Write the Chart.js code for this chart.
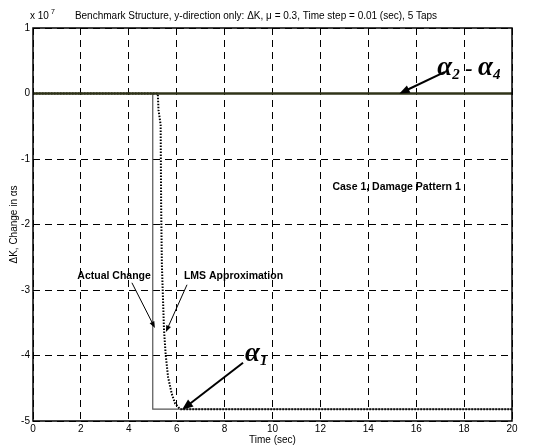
<!DOCTYPE html>
<html>
<head>
<meta charset="utf-8">
<script src="https://cdn.jsdelivr.net/npm/chart.js@4.4.0/dist/chart.umd.min.js"></script>
<style>
  html, body { margin: 0; padding: 0; background: #fff; }
  #wrap { width: 540px; height: 445px; }
</style>
</head>
<body>
<div id="wrap"><canvas id="grafico"></canvas></div>
<script>
// datos (unidades de 1e7)
const xTicks = [0, 2, 4, 6, 8, 10, 12, 14, 16, 18, 20];
const yTicks = [1, 0, -1, -2, -3, -4, -5];

const tAlpha24 = [0, 20];
const vAlpha24 = [0, 0];

const tActual = [0, 5, 5, 20];
const vActual = [0, 0, -4.82, -4.82];

const tLMS = [0, 5.21, 5.24, 5.33, 5.35, 5.38, 5.47, 5.54, 5.64, 5.79, 5.93, 6.14, 20];
const vLMS = [0, 0, -0.25, -0.48, -1.70, -2.60, -3.61, -3.99, -4.33, -4.58, -4.73, -4.82, -4.82];

const toPts = (xs, ys) => xs.map((x, i) => ({ x: x, y: ys[i] }));

// textos y flechas en coordenadas de datos
const etiquetas = [
    { text: 'Case 1, Damage Pattern 1', x: 12.5, y: -1.43 },
    { text: 'Actual Change', x: 1.85, y: -2.79 },
    { text: 'LMS Approximation', x: 6.3, y: -2.79 }
];
const flechas = [
    { from: [4.13, -2.89], to: [5.09, -3.58], w: 1, head: 7 },
    { from: [6.43, -2.92], to: [5.55, -3.64], w: 1, head: 7 },
    { from: [17.2, 0.33], to: [15.3, 0], w: 2, head: 11 },
    { from: [8.77, -4.11], to: [6.22, -4.83], w: 2, head: 12 }
];

function drawRich(ctx, x, y, parts) {
    let cx = x;
    parts.forEach(p => {
        ctx.font = 'italic bold ' + p.size + 'px "Liberation Serif", "Times New Roman", serif';
        ctx.fillText(p.t, cx, y + (p.dy || 0));
        cx += ctx.measureText(p.t).width;
    });
}

const anotaciones = {
    id: 'anotaciones',
    afterDatasetsDraw(chart) {
        const ctx = chart.ctx;
        const xs = chart.scales.x, ys = chart.scales.y;
        const a = chart.chartArea;
        ctx.save();

        // marco completo
        ctx.strokeStyle = '#000';
        ctx.lineWidth = 1.5;
        ctx.strokeRect(a.left, a.top, a.right - a.left, a.bottom - a.top);

        // x 10^7
        ctx.fillStyle = '#000';
        ctx.textBaseline = 'alphabetic';
        ctx.textAlign = 'left';
        ctx.font = '10px "Liberation Sans", Arial, sans-serif';
        ctx.fillText('x 10', 30, 19);
        ctx.font = '7px "Liberation Sans", Arial, sans-serif';
        ctx.fillText('7', 51, 14);

        // etiquetas
        ctx.font = 'bold 10.5px "Liberation Sans", Arial, sans-serif';
        ctx.textBaseline = 'middle';
        etiquetas.forEach(e => {
            ctx.fillText(e.text, xs.getPixelForValue(e.x), ys.getPixelForValue(e.y));
        });

        // flechas
        flechas.forEach(f => {
            const x1 = xs.getPixelForValue(f.from[0]), y1 = ys.getPixelForValue(f.from[1]);
            const x2 = xs.getPixelForValue(f.to[0]), y2 = ys.getPixelForValue(f.to[1]);
            const ang = Math.atan2(y2 - y1, x2 - x1);
            ctx.strokeStyle = '#000';
            ctx.lineWidth = f.w;
            ctx.beginPath();
            ctx.moveTo(x1, y1);
            ctx.lineTo(x2 - Math.cos(ang) * f.head * 0.8, y2 - Math.sin(ang) * f.head * 0.8);
            ctx.stroke();
            ctx.beginPath();
            ctx.moveTo(x2, y2);
            ctx.lineTo(x2 - f.head * Math.cos(ang - 0.38), y2 - f.head * Math.sin(ang - 0.38));
            ctx.lineTo(x2 - f.head * Math.cos(ang + 0.38), y2 - f.head * Math.sin(ang + 0.38));
            ctx.closePath();
            ctx.fillStyle = '#000';
            ctx.fill();
        });

        // alfas
        ctx.textBaseline = 'alphabetic';
        drawRich(ctx, xs.getPixelForValue(16.88), ys.getPixelForValue(0.29), [
            { t: '\u03B1', size: 27 }, { t: '2', size: 15, dy: 4 },
            { t: ' - ', size: 22 },
            { t: '\u03B1', size: 27 }, { t: '4', size: 15, dy: 4 }
        ]);
        drawRich(ctx, xs.getPixelForValue(8.85), ys.getPixelForValue(-4.09), [
            { t: '\u03B1', size: 27 }, { t: '1', size: 15, dy: 4 }
        ]);

        ctx.restore();
    }
};

new Chart(document.getElementById('grafico').getContext('2d'), {
    type: 'scatter',
    data: {
        datasets: [
            {
                label: 'Actual Change',
                data: toPts(tActual, vActual),
                showLine: true,
                borderColor: '#555',
                borderWidth: 1.2,
                pointRadius: 0,
                order: 3
            },
            {
                label: 'LMS Approximation',
                data: toPts(tLMS, vLMS),
                showLine: true,
                borderColor: '#000',
                borderWidth: 2,
                borderDash: [1.5, 1.5],
                pointRadius: 0,
                order: 2
            },
            {
                label: 'alpha2 - alpha4',
                data: toPts(tAlpha24, vAlpha24),
                showLine: true,
                borderColor: '#2f3318',
                borderWidth: 2.4,
                pointRadius: 0,
                order: 1
            }
        ]
    },
    options: {
        responsive: true,
        maintainAspectRatio: false,
        animation: false,
        layout: { padding: { right: 28, left: 0, top: 0, bottom: 0 } },
        plugins: {
            legend: { display: false },
            tooltip: { enabled: false },
            title: {
                display: true,
                text: 'Benchmark Structure, y-direction only: \u0394K, \u03BC = 0.3, Time step = 0.01 (sec), 5 Taps',
                color: '#000',
                font: { family: '"Liberation Sans", Arial, sans-serif', size: 10, weight: 'normal', lineHeight: 1.2 },
                padding: { top: 10, bottom: 6 }
            }
        },
        scales: {
            x: {
                type: 'linear',
                min: 0,
                max: 20,
                afterBuildTicks: s => { s.ticks = xTicks.map(v => ({ value: v })); },
                afterFit: s => { s.height = 24; },
                ticks: {
                    color: '#000',
                    padding: 2,
                    maxRotation: 0,
                    font: { family: '"Liberation Sans", Arial, sans-serif', size: 10 }
                },
                grid: { color: '#000', lineWidth: 1, drawTicks: false },
                border: { display: false, dash: [7, 5] },
                title: {
                    display: true,
                    text: 'Time (sec)',
                    color: '#000',
                    padding: { top: 0, bottom: 0 },
                    font: { family: '"Liberation Sans", Arial, sans-serif', size: 10, lineHeight: 1 }
                }
            },
            y: {
                min: -5,
                max: 1,
                afterBuildTicks: s => { s.ticks = yTicks.map(v => ({ value: v })); },
                afterFit: s => { s.width = 33; },
                ticks: {
                    color: '#000',
                    padding: 3,
                    font: { family: '"Liberation Sans", Arial, sans-serif', size: 10 }
                },
                grid: { color: '#000', lineWidth: 1, drawTicks: false },
                border: { display: false, dash: [7, 5] },
                title: {
                    display: true,
                    text: '\u0394K, Change in \u03B1s',
                    color: '#000',
                    padding: { top: 9, bottom: 0 },
                    font: { family: '"Liberation Sans", Arial, sans-serif', size: 10, lineHeight: 1 }
                }
            }
        }
    },
    plugins: [anotaciones]
});
</script>
</body>
</html>
